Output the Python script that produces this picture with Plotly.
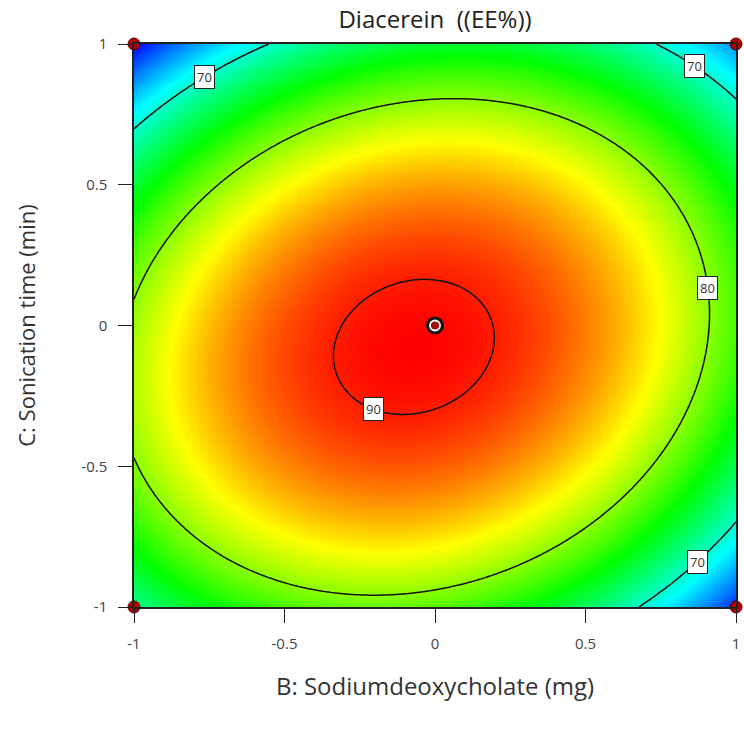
import numpy as np
import plotly.graph_objects as go

# Fitted quadratic model in coded units
# B = Sodiumdeoxycholate, C = Sonication time, response = EE%
intercept = 90.68
coef_B = -1.34
coef_C = -1.91
coef_BC = 3.42
coef_B2 = -11.40
coef_C2 = -14.14

contour_levels = [70, 80, 90]
tick_values = [-1, -0.5, 0, 0.5, 1]
tick_labels = ["-1", "-0.5", "0", "0.5", "1"]

# Design points: factorial corners and the centre point
corner_B = [-1, 1, -1, 1]
corner_C = [1, 1, -1, -1]
center_B = [0]
center_C = [0]

# Contour labels: level and direction (degrees) measured from the optimum
label_levels = [70, 70, 80, 90, 70]
label_angles = [126, 47, 12, 239, -39]


def ee(b, c):
    return (intercept + coef_B * b + coef_C * c + coef_BC * b * c
            + coef_B2 * b ** 2 + coef_C2 * c ** 2)


grid = np.linspace(-1, 1, 301)
BB, CC = np.meshgrid(grid, grid)
Z = ee(BB, CC)

# stationary point of the surface
H = np.array([[2 * coef_B2, coef_BC], [coef_BC, 2 * coef_C2]])
opt = np.linalg.solve(H, -np.array([coef_B, coef_C]))
z_opt = ee(opt[0], opt[1])

colorscale = [
    [0.0, "rgb(0,0,255)"],
    [0.25, "rgb(0,255,255)"],
    [0.5, "rgb(0,255,0)"],
    [0.75, "rgb(255,255,0)"],
    [1.0, "rgb(255,0,0)"],
]

FONT = "Open Sans, Arial"

fig = go.Figure()
fig.add_trace(go.Contour(
    x=grid, y=grid, z=Z,
    colorscale=colorscale, zmin=float(Z.min()), zmax=float(Z.max()),
    autocontour=False,
    contours=dict(start=min(contour_levels), end=max(contour_levels),
                  size=contour_levels[1] - contour_levels[0],
                  coloring="heatmap", showlabels=False),
    line=dict(color="#111111", width=1.5),
    showscale=False, hoverinfo="skip",
))

# design points
fig.add_trace(go.Scatter(
    x=corner_B, y=corner_C, mode="markers", cliponaxis=False,
    marker=dict(size=12, color="#b00000", line=dict(color="#5a0000", width=1)),
    showlegend=False, hoverinfo="skip",
))
fig.add_trace(go.Scatter(
    x=center_B, y=center_C, mode="markers",
    marker=dict(size=18, color="#111111"),
    showlegend=False, hoverinfo="skip",
))
fig.add_trace(go.Scatter(
    x=center_B, y=center_C, mode="markers",
    marker=dict(size=10, color="#a01010", line=dict(color="white", width=1.8)),
    showlegend=False, hoverinfo="skip",
))

# contour value boxes placed on each contour line
annotations = []
for lvl, ang in zip(label_levels, label_angles):
    d = np.array([np.cos(np.radians(ang)), np.sin(np.radians(ang))])
    curv = coef_B2 * d[0] ** 2 + coef_C2 * d[1] ** 2 + coef_BC * d[0] * d[1]
    r = np.sqrt((lvl - z_opt) / curv)
    px, py = opt + r * d
    annotations.append(dict(
        x=px, y=py, text=str(lvl), showarrow=False,
        bgcolor="white", bordercolor="#222222", borderwidth=1, borderpad=2,
        font=dict(family=FONT, size=13, color="#333333"),
    ))

axis_common = dict(
    range=[-1, 1], tickvals=tick_values, ticktext=tick_labels,
    showgrid=False, zeroline=False, showline=True, mirror=True,
    linecolor="#222222", linewidth=1.5, ticks="outside", ticklen=14,
    tickcolor="#222222", tickwidth=1.3,
    tickfont=dict(family=FONT, size=15, color="#444444"),
)

fig.update_layout(
    width=744, height=737,
    margin=dict(l=134, r=4, t=44, b=130),
    paper_bgcolor="white", plot_bgcolor="white",
    title=dict(text="Diacerein  ((EE%))", x=0.5, xref="paper", xanchor="center",
               y=1 - 20 / 737, yref="container", yanchor="middle",
               font=dict(family=FONT, size=24, color="#222222")),
    xaxis=dict(axis_common,
               title=dict(text="B: Sodiumdeoxycholate (mg)", standoff=26,
                          font=dict(family=FONT, size=24, color="#333333")),
               ticklabelstandoff=8),
    yaxis=dict(axis_common,
               title=dict(text="C: Sonication time (min)", standoff=40,
                          font=dict(family=FONT, size=22, color="#333333")),
               ticklabelstandoff=8),
    annotations=annotations,
)

fig.write_html("out.html")
